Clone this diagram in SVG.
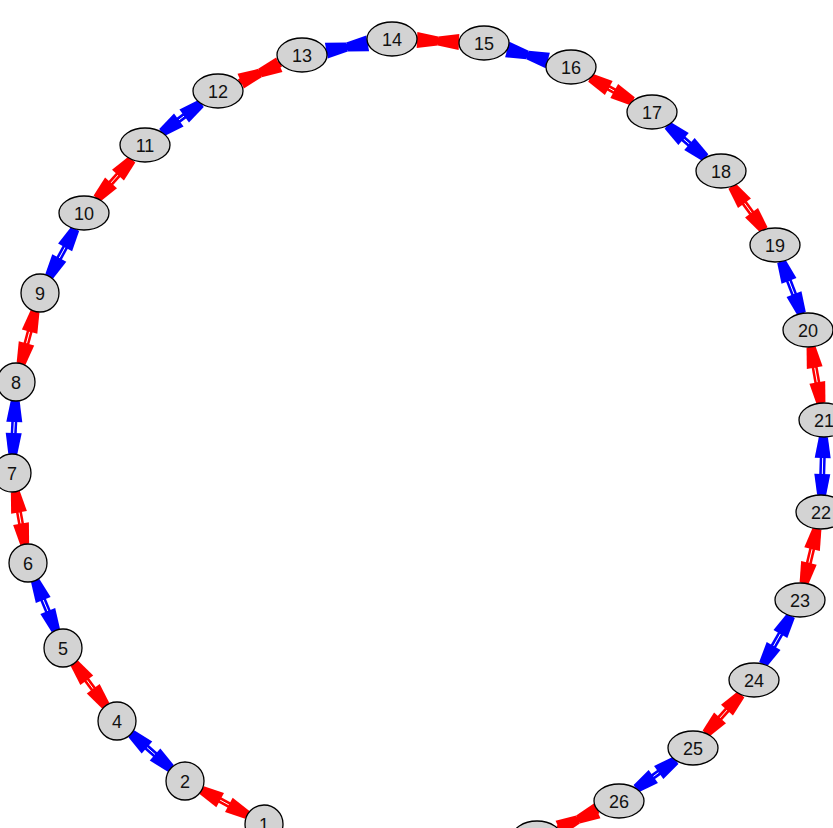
<svg xmlns="http://www.w3.org/2000/svg" width="833" height="828" viewBox="0 0 833 828">
<style>
.n ellipse, .n circle { fill: #d3d3d3; stroke: #000; stroke-width: 1.3; }
.n text { font-family: "Liberation Sans", Arial, sans-serif; font-size: 18px; text-anchor: middle; fill: #111; }
.ln { stroke-width: 6; fill: none; }
.red .ln { stroke: #ff0000; }
.blue .ln { stroke: #0000ff; }
.hl { stroke: #ffffff; stroke-width: 1; fill: none; }
.m { stroke: none; fill: none; }
.red .m { marker-end: url(#arR); }
.blue .m { marker-end: url(#arB); }
</style>
<defs>
<marker id="arR" markerUnits="userSpaceOnUse" viewBox="0 -9 21 18" refX="21" refY="0" markerWidth="21" markerHeight="18" orient="auto" overflow="visible">
<polygon points="0,-8 21,-4.5 21,4.5 0,8" fill="#ff0000"/>
</marker>
<marker id="arB" markerUnits="userSpaceOnUse" viewBox="0 -9 21 18" refX="21" refY="0" markerWidth="21" markerHeight="18" orient="auto" overflow="visible">
<polygon points="0,-8 21,-4.5 21,4.5 0,8" fill="#0000ff"/>
</marker>
</defs>
<rect width="833" height="828" fill="#ffffff"/>
<g id="edges">
<g id="e1-2" class="red"><line class="ln" x1="247.3" y1="814.9" x2="201.7" y2="790.1"/><line class="hl" x1="228.9" y1="804.9" x2="220.1" y2="800.1"/><path class="m" d="M228.9,804.9 L247.3,814.9"/><path class="m" d="M220.1,800.1 L201.7,790.1"/></g>
<g id="e2-4" class="blue"><line class="ln" x1="170.8" y1="768.4" x2="131.2" y2="733.6"/><line class="hl" x1="155" y1="754.5" x2="147" y2="747.5"/><path class="m" d="M155,754.5 L170.8,768.4"/><path class="m" d="M147,747.5 L131.2,733.6"/></g>
<g id="e4-5" class="red"><line class="ln" x1="105.7" y1="705.7" x2="74.3" y2="663.3"/><line class="hl" x1="93.2" y1="688.8" x2="86.8" y2="680.2"/><path class="m" d="M93.2,688.8 L105.7,705.7"/><path class="m" d="M86.8,680.2 L74.3,663.3"/></g>
<g id="e5-6" class="blue"><line class="ln" x1="55.8" y1="630.4" x2="35.2" y2="580.6"/><line class="hl" x1="47.8" y1="611" x2="43.2" y2="600"/><path class="m" d="M47.8,611 L55.8,630.4"/><path class="m" d="M43.2,600 L35.2,580.6"/></g>
<g id="e6-7" class="red"><line class="ln" x1="24.7" y1="544.3" x2="15.3" y2="491.7"/><line class="hl" x1="21" y1="523.6" x2="19" y2="512.4"/><path class="m" d="M21,523.6 L24.7,544.3"/><path class="m" d="M19,512.4 L15.3,491.7"/></g>
<g id="e7-8" class="blue"><line class="ln" x1="12.8" y1="454" x2="15.2" y2="401"/><line class="hl" x1="13.7" y1="433" x2="14.3" y2="422"/><path class="m" d="M13.7,433 L12.8,454"/><path class="m" d="M14.3,422 L15.2,401"/></g>
<g id="e8-9" class="red"><line class="ln" x1="21" y1="363.7" x2="35.1" y2="311.3"/><line class="hl" x1="26.5" y1="343.4" x2="29.6" y2="331.6"/><path class="m" d="M26.5,343.4 L21,363.7"/><path class="m" d="M29.6,331.6 L35.1,311.3"/></g>
<g id="e9-10" class="blue"><line class="ln" x1="49.2" y1="276.4" x2="75.2" y2="228.9"/><line class="hl" x1="59.3" y1="258" x2="65.1" y2="247.3"/><path class="m" d="M59.3,258 L49.2,276.4"/><path class="m" d="M65.1,247.3 L75.2,228.9"/></g>
<g id="e10-11" class="red"><line class="ln" x1="97" y1="198.5" x2="132" y2="159.5"/><line class="hl" x1="111" y1="182.9" x2="118" y2="175.1"/><path class="m" d="M111,182.9 L97,198.5"/><path class="m" d="M118,175.1 L132,159.5"/></g>
<g id="e11-12" class="blue"><line class="ln" x1="161.9" y1="132.5" x2="201.1" y2="103.5"/><line class="hl" x1="178.8" y1="120" x2="184.2" y2="116"/><path class="m" d="M178.8,120 L161.9,132.5"/><path class="m" d="M184.2,116 L201.1,103.5"/></g>
<g id="e12-13" class="red"><line class="ln" x1="239.1" y1="81.9" x2="280.8" y2="64.1"/><path class="m" d="M239.1,81.9 L260,73"/><path class="m" d="M280.8,64.1 L260,73"/></g>
<g id="e13-14" class="blue"><line class="ln" x1="326.2" y1="50.7" x2="367.8" y2="43.3"/><path class="m" d="M326.2,50.7 L347,47"/><path class="m" d="M367.8,43.3 L347,47"/></g>
<g id="e14-15" class="red"><line class="ln" x1="417" y1="40.1" x2="459" y2="41.9"/><path class="m" d="M417,40.1 L438,41"/><path class="m" d="M459,41.9 L438,41"/></g>
<g id="e15-16" class="blue"><line class="ln" x1="507.2" y1="49.4" x2="547.8" y2="60.6"/><path class="m" d="M507.2,49.4 L527.5,55"/><path class="m" d="M547.8,60.6 L527.5,55"/></g>
<g id="e16-17" class="red"><line class="ln" x1="590.4" y1="77.8" x2="632.6" y2="101.2"/><line class="hl" x1="608.8" y1="88" x2="614.2" y2="91"/><path class="m" d="M608.8,88 L590.4,77.8"/><path class="m" d="M614.2,91 L632.6,101.2"/></g>
<g id="e17-18" class="blue"><line class="ln" x1="667.6" y1="125.3" x2="705.4" y2="157.7"/><line class="hl" x1="683.6" y1="139" x2="689.4" y2="144"/><path class="m" d="M683.6,139 L667.6,125.3"/><path class="m" d="M689.4,144 L705.4,157.7"/></g>
<g id="e18-19" class="red"><line class="ln" x1="732.1" y1="186.2" x2="763.9" y2="229.8"/><line class="hl" x1="744.5" y1="203.2" x2="751.5" y2="212.8"/><path class="m" d="M744.5,203.2 L732.1,186.2"/><path class="m" d="M751.5,212.8 L763.9,229.8"/></g>
<g id="e19-20" class="blue"><line class="ln" x1="781.4" y1="261.4" x2="801.6" y2="313.6"/><line class="hl" x1="789" y1="281" x2="794" y2="294"/><path class="m" d="M789,281 L781.4,261.4"/><path class="m" d="M794,294 L801.6,313.6"/></g>
<g id="e20-21" class="red"><line class="ln" x1="811" y1="346.9" x2="821" y2="403.1"/><line class="hl" x1="814.7" y1="367.6" x2="817.3" y2="382.4"/><path class="m" d="M814.7,367.6 L811,346.9"/><path class="m" d="M817.3,382.4 L821,403.1"/></g>
<g id="e21-22" class="blue"><line class="ln" x1="823.4" y1="437" x2="821.6" y2="495"/><line class="hl" x1="822.7" y1="458" x2="822.3" y2="474"/><path class="m" d="M822.7,458 L823.4,437"/><path class="m" d="M822.3,474 L821.6,495"/></g>
<g id="e22-23" class="red"><line class="ln" x1="817" y1="528.8" x2="804" y2="583.2"/><line class="hl" x1="812.1" y1="549.2" x2="808.9" y2="562.8"/><path class="m" d="M812.1,549.2 L817,528.8"/><path class="m" d="M808.9,562.8 L804,583.2"/></g>
<g id="e23-24" class="blue"><line class="ln" x1="790.9" y1="615.8" x2="763.1" y2="664.2"/><line class="hl" x1="780.4" y1="634" x2="773.6" y2="646"/><path class="m" d="M780.4,634 L790.9,615.8"/><path class="m" d="M773.6,646 L763.1,664.2"/></g>
<g id="e24-25" class="red"><line class="ln" x1="741" y1="694.5" x2="706" y2="733.5"/><line class="hl" x1="727" y1="710.1" x2="720" y2="717.9"/><path class="m" d="M727,710.1 L741,694.5"/><path class="m" d="M720,717.9 L706,733.5"/></g>
<g id="e25-26" class="blue"><line class="ln" x1="675.8" y1="760.3" x2="636.2" y2="788.7"/><line class="hl" x1="658.7" y1="772.5" x2="653.3" y2="776.5"/><path class="m" d="M658.7,772.5 L675.8,760.3"/><path class="m" d="M653.3,776.5 L636.2,788.7"/></g>
<g id="e26-27" class="red"><line class="ln" x1="598.2" y1="810.4" x2="557.8" y2="828.6"/><path class="m" d="M598.2,810.4 L578,819.5"/><path class="m" d="M557.8,828.6 L578,819.5"/></g>
</g>
<g id="node1" class="n"><circle cx="264" cy="824" r="19"/><text x="264" y="830.5">1</text></g>
<g id="node2" class="n"><circle cx="185" cy="781" r="19"/><text x="185" y="787.5">2</text></g>
<g id="node4" class="n"><circle cx="117" cy="721" r="19"/><text x="117" y="727.5">4</text></g>
<g id="node5" class="n"><circle cx="63" cy="648" r="19"/><text x="63" y="654.5">5</text></g>
<g id="node6" class="n"><circle cx="28" cy="563" r="19"/><text x="28" y="569.5">6</text></g>
<g id="node7" class="n"><circle cx="12" cy="473" r="19"/><text x="12" y="479.5">7</text></g>
<g id="node8" class="n"><circle cx="16" cy="382" r="19"/><text x="16" y="388.5">8</text></g>
<g id="node9" class="n"><circle cx="40" cy="293" r="19"/><text x="40" y="299.5">9</text></g>
<g id="node10" class="n"><ellipse cx="84" cy="213" rx="25" ry="17"/><text x="84" y="219.5">10</text></g>
<g id="node11" class="n"><ellipse cx="145" cy="145" rx="25" ry="17"/><text x="145" y="151.5">11</text></g>
<g id="node12" class="n"><ellipse cx="218" cy="91" rx="25" ry="17"/><text x="218" y="97.5">12</text></g>
<g id="node13" class="n"><ellipse cx="302" cy="55" rx="25" ry="17"/><text x="302" y="61.5">13</text></g>
<g id="node14" class="n"><ellipse cx="392" cy="39" rx="25" ry="17"/><text x="392" y="45.5">14</text></g>
<g id="node15" class="n"><ellipse cx="484" cy="43" rx="25" ry="17"/><text x="484" y="49.5">15</text></g>
<g id="node16" class="n"><ellipse cx="571" cy="67" rx="25" ry="17"/><text x="571" y="73.5">16</text></g>
<g id="node17" class="n"><ellipse cx="652" cy="112" rx="25" ry="17"/><text x="652" y="118.5">17</text></g>
<g id="node18" class="n"><ellipse cx="721" cy="171" rx="25" ry="17"/><text x="721" y="177.5">18</text></g>
<g id="node19" class="n"><ellipse cx="775" cy="245" rx="25" ry="17"/><text x="775" y="251.5">19</text></g>
<g id="node20" class="n"><ellipse cx="808" cy="330" rx="25" ry="17"/><text x="808" y="336.5">20</text></g>
<g id="node21" class="n"><ellipse cx="824" cy="420" rx="25" ry="17"/><text x="824" y="426.5">21</text></g>
<g id="node22" class="n"><ellipse cx="821" cy="512" rx="25" ry="17"/><text x="821" y="518.5">22</text></g>
<g id="node23" class="n"><ellipse cx="800" cy="600" rx="25" ry="17"/><text x="800" y="606.5">23</text></g>
<g id="node24" class="n"><ellipse cx="754" cy="680" rx="25" ry="17"/><text x="754" y="686.5">24</text></g>
<g id="node25" class="n"><ellipse cx="693" cy="748" rx="25" ry="17"/><text x="693" y="754.5">25</text></g>
<g id="node26" class="n"><ellipse cx="619" cy="801" rx="25" ry="17"/><text x="619" y="807.5">26</text></g>
<g id="node27" class="n"><ellipse cx="537" cy="838" rx="25" ry="17"/></g>
</svg>
